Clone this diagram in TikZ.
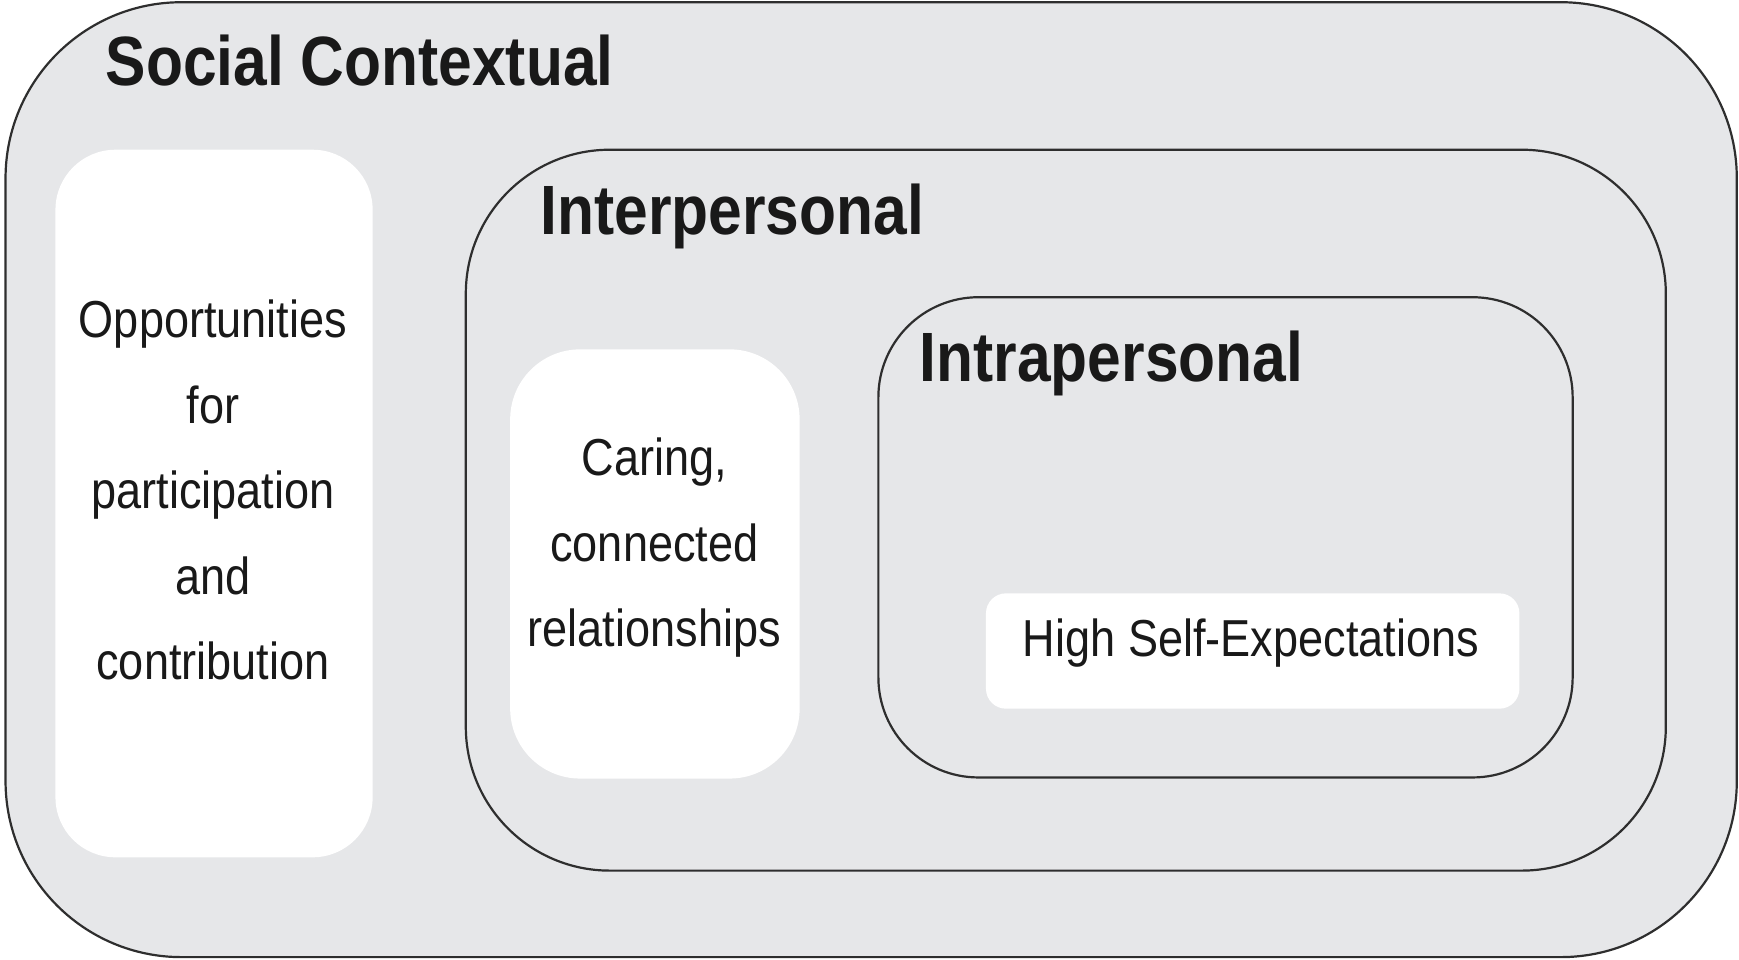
\documentclass[tikz,border=0pt]{standalone}
\usepackage{fontspec}
\setmainfont{Liberation Sans}[FakeStretch=0.867]
\begin{document}
\definecolor{panelgray}{HTML}{E6E7E9}
\definecolor{edgegray}{HTML}{2E2E2E}
\begin{tikzpicture}[x=0.5545pt, y=-0.5545pt,
  frame/.style={draw=edgegray, line width=1.1pt, fill=panelgray},
  whitebox/.style={fill=white, draw=none},
  heading/.style={font=\fontsize{34.9}{40}\selectfont\bfseries, text=black!90, anchor=base west, inner sep=0pt},
  body/.style={font=\fontsize{26}{42.7}\selectfont, text=black!90, align=center, inner sep=0pt}]
  \useasboundingbox (0,0) rectangle (1568,865);

  % outer social-contextual frame
  \draw[frame, rounded corners=88] (5,2) rectangle (1566,863);
  \node[heading] (social) at (95,77) {Social Contextual};

  % participation panel
  \fill[whitebox, rounded corners=30] (50,135) rectangle (336,773);
  \node[body] (opp) at (192,442) {Opportunities\\for\\participation\\and\\contribution};

  % interpersonal frame
  \draw[frame, rounded corners=72] (420,135) rectangle (1502,785);
  \node[heading] (inter) at (487,211) {Interpersonal};

  \fill[whitebox, rounded corners=35] (460,315) rectangle (721,702);
  \node[body] (caring) at (590,494) {Caring,\\connected\\relationships};

  % intrapersonal frame
  \draw[frame, rounded corners=50] (792,268) rectangle (1418,701);
  \node[heading] (intra) at (829,344) {Intrapersonal};

  \fill[whitebox, rounded corners=10] (889,535) rectangle (1370,639);
  \node[body, anchor=base] (hse) at (1128,592) {High Self-Expectations};
\end{tikzpicture}
\end{document}
